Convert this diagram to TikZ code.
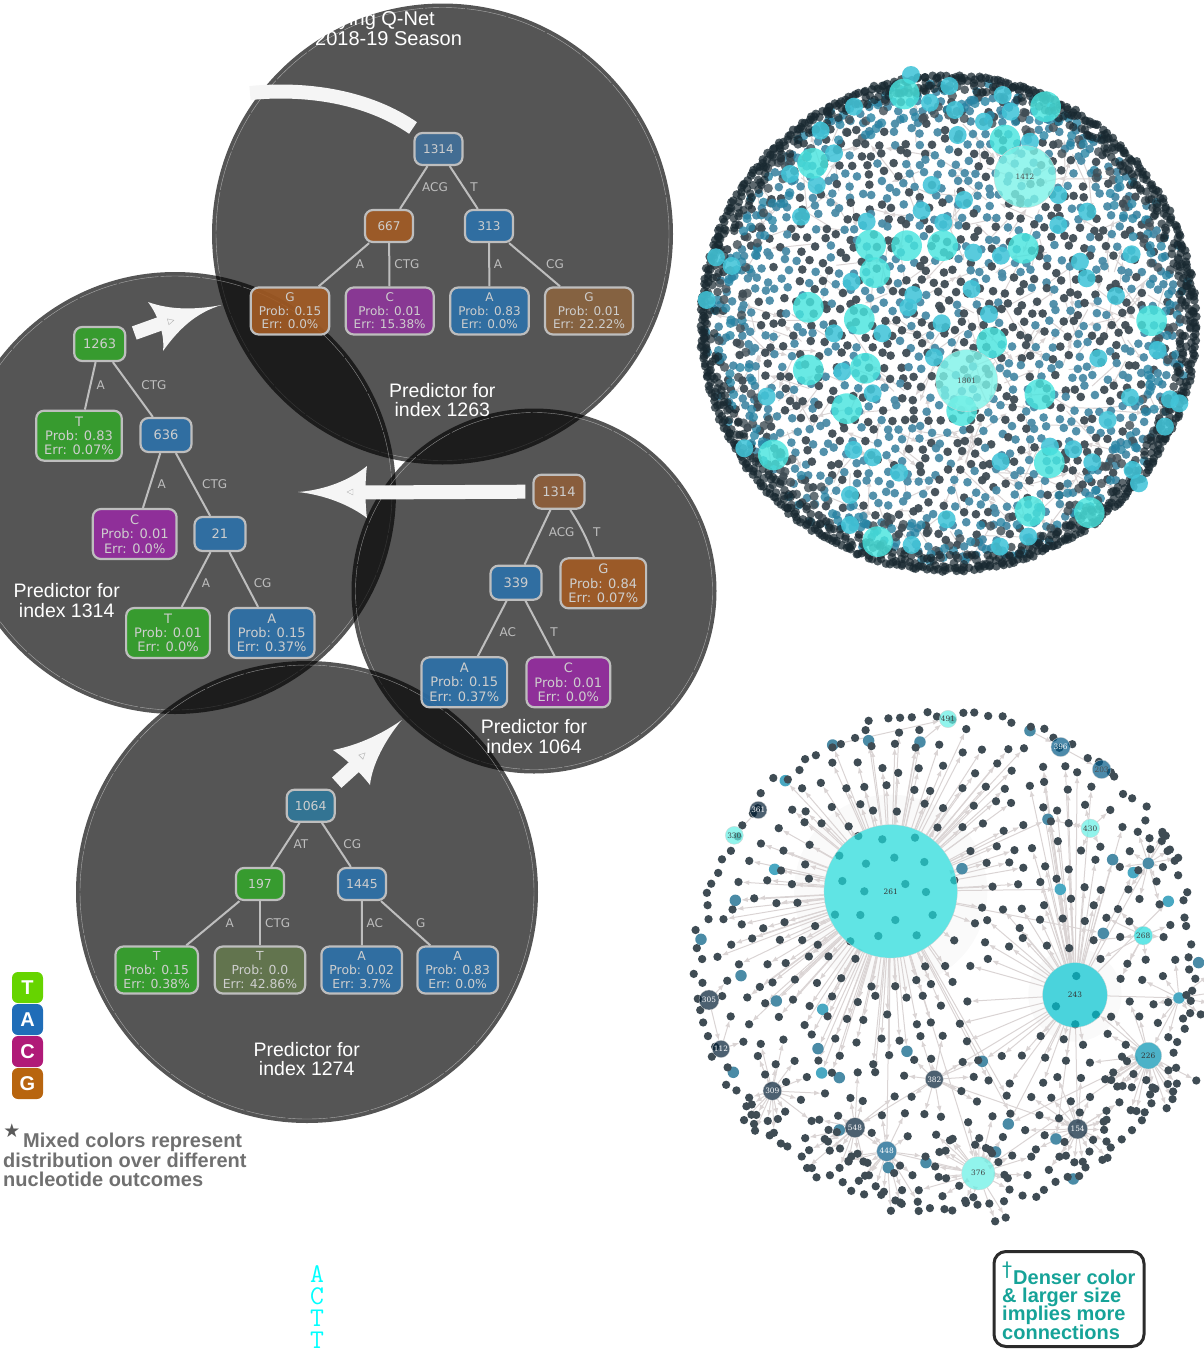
\documentclass[tikz,border=0pt]{standalone}
\usepackage{fontspec}
\usepackage{xcolor}
\usetikzlibrary{arrows.meta}
\setmainfont{Liberation Sans}
\newfontfamily\treefont{DejaVu Sans}
\newfontfamily\hubfont{DejaVu Serif}
\pgfdeclarelayer{edgelayer}
\pgfsetlayers{edgelayer,main}
\newcounter{fanleaf}
\newcommand{\fanout}[6]{%
  \foreach \ii in {1,...,#2}{%
    \stepcounter{fanleaf}%
    \pgfmathsetmacro\ang{#3+(#4-#3)/#2*(\ii-1+0.8*rnd)}%
    \pgfmathsetmacro\rad{#5+(#6-#5)*rnd}%
    \node[leafdot] (leaf\thefanleaf) at ([shift={(\ang:\rad)}]#1.center) {};
  }%
  \begin{pgfonlayer}{edgelayer}
    \foreach \ii in {1,...,#2}{%
      \pgfmathtruncatemacro\lf{\thefanleaf-\ii+1}%
      \draw[linkarrow] (#1) -- (leaf\lf);
    }
  \end{pgfonlayer}
}
\tikzset{
  treesize/.style={font=\treefont\fontsize{12}{13.4}\selectfont,minimum width=48,minimum height=32},
  leafsize/.style={font=\treefont\fontsize{12}{13.4}\selectfont,minimum height=47},
  intbox/.style={draw=cboxline,line width=2.2,rounded corners=8,text=cboxtext,fill opacity=.9,text opacity=1,inner sep=0,treesize},
  leafbox/.style={draw=cboxline,line width=2.2,rounded corners=8,text=cboxtext,fill opacity=.9,text opacity=1,inner xsep=8,inner ysep=0,align=center,leafsize},
  treeedge/.style={draw=cboxline,line width=2},
  edgetag/.style={text=cboxline,font=\treefont\fontsize{12}{13}\selectfont,inner sep=0},
  predtag/.style={text=white,align=center,font=\fontsize{19.5}{19.5}\selectfont,inner sep=0},
  flowline/.style={draw=cflow,line width=14},
  flowhead/.style={fill=cflow},
  tipmark/.style={draw=gray!60,line width=.4},
  legendbox/.style={rounded corners=6,minimum size=31,inner sep=0,text=white,font=\fontsize{20}{20}\bfseries\selectfont},
  greytext/.style={text=cgreytext,anchor=base west,inner sep=0,font=\fontsize{20}{20}\bfseries\selectfont},
  tealtext/.style={text=ctealtext,anchor=base west,inner sep=0,font=\fontsize{20}{20}\bfseries\selectfont},
  leafdot/.style={circle,fill=cdotdark,inner sep=0,minimum size=8.3},
  linkarrow/.style={draw=clink,line width=1,-{Latex[length=6.5,width=5]}},
  hubdot/.style={circle,inner sep=0,draw=cboxline!70,line width=.3,fill opacity=.7,text opacity=1,font=\hubfont\fontsize{7.4}{8}\selectfont},
}
\begin{document}
\begin{tikzpicture}[x=1pt,y=-1pt]
  \definecolor{cboxline}{RGB}{190,190,190}
  \definecolor{cboxtext}{RGB}{206,206,206}
  \definecolor{cflow}{RGB}{245,245,245}
  \definecolor{cgreytext}{RGB}{112,112,112}
  \definecolor{ctealtext}{RGB}{22,163,152}
  \definecolor{cdotdark}{RGB}{63,76,84}
  \definecolor{cdotteal}{RGB}{74,139,166}
  \definecolor{cdotsky}{RGB}{73,168,194}
  \definecolor{cdotrim}{RGB}{24,40,48}
  \definecolor{cdotblue}{RGB}{40,132,164}
  \definecolor{clink}{RGB}{218,212,212}
  \definecolor{cblue}{RGB}{45,113,170}
  \definecolor{cgreen}{RGB}{53,164,44}
  \definecolor{cpurple}{RGB}{150,44,162}
  \definecolor{corange}{RGB}{164,92,36}
  \definecolor{hubpale}{RGB}{99,239,228}
  \definecolor{hubaqua}{RGB}{31,219,219}
  \definecolor{hubcyan}{RGB}{0,195,208}
  \definecolor{hubsea}{RGB}{0,145,176}
  \definecolor{hubblue}{RGB}{0,88,134}
  \definecolor{hubslate}{RGB}{0,28,51}
  \definecolor{hubmint}{RGB}{72,228,222}
  \definecolor{hubfoam}{RGB}{124,242,232}
  \useasboundingbox (0,0) rectangle (1203,1350);
  \pgfmathsetseed{4242}

  % predictor discs
  \foreach \cx/\cy/\cr in {442.5/234/230.5,175/493/221,534/591/182.5,307/892/231}{%
    \fill[black,opacity=.667] (\cx,\cy) circle (\cr);
    \draw[white,opacity=.5,line width=.4,dash pattern=on 40pt off 2pt] (\cx,\cy) circle ({\cr-4});
  }

  % top tree
  \begin{scope}
    \node[intbox,fill={rgb,255:red,66;green,112;blue,154}] (ta) at (438.5,149) {1314};
    \node[intbox,fill=corange] (tb) at (389,226) {667};
    \node[intbox,fill=cblue] (tc) at (489,226) {313};
    \node[leafbox,fill=corange] (td) at (290,311) {G\\Prob: 0.15\\Err: 0.0\%};
    \node[leafbox,fill={rgb,255:red,142;green,54;blue,154}] (te) at (389.7,311) {C\\Prob: 0.01\\Err: 15.38\%};
    \node[leafbox,fill=cblue] (tf) at (489.5,311) {A\\Prob: 0.83\\Err: 0.0\%};
    \node[leafbox,fill={rgb,255:red,139;green,100;blue,64}] (tg) at (589,311) {G\\Prob: 0.01\\Err: 22.22\%};
    \foreach \pa/\pb in {ta/tb,ta/tc,tb/td,tb/te,tc/tf,tc/tg}{%
      \draw[treeedge] (\pa) -- (\pb);
    }
    \node[edgetag] (tl1) at (435,187) {ACG};
    \node[edgetag] (tl2) at (474,187) {T};
    \node[edgetag] (tl3) at (360,264) {A};
    \node[edgetag] (tl4) at (407,264) {CTG};
    \node[edgetag] (tl5) at (498,264) {A};
    \node[edgetag] (tl6) at (555,264) {CG};
    \node[predtag] (tp) at (442.3,400) {Predictor for\\index 1263};
  \end{scope}

  % left tree
  \begin{scope}[treesize/.style={font=\treefont\fontsize{13}{14.3}\selectfont,minimum width=51,minimum height=34},
    leafsize/.style={font=\treefont\fontsize{13}{14.3}\selectfont,minimum height=50}]
    \node[intbox,fill=cgreen] (la) at (99.7,344) {1263};
    \node[leafbox,fill=cgreen] (lb) at (79,435.7) {T\\Prob: 0.83\\Err: 0.07\%};
    \node[intbox,fill=cblue] (lc) at (166,435) {636};
    \node[leafbox,fill=cpurple] (ld) at (134.7,534) {C\\Prob: 0.01\\Err: 0.0\%};
    \node[intbox,fill=cblue] (le) at (220,534) {21};
    \node[leafbox,fill=cgreen] (lf) at (168,633) {T\\Prob: 0.01\\Err: 0.0\%};
    \node[leafbox,fill=cblue] (lg) at (271.7,633) {A\\Prob: 0.15\\Err: 0.37\%};
    \foreach \pa/\pb in {la/lb,la/lc,lc/ld,lc/le,le/lf,le/lg}{%
      \draw[treeedge] (\pa) -- (\pb);
    }
    \node[edgetag] (ll1) at (100.7,385) {A};
    \node[edgetag] (ll2) at (154,385) {CTG};
    \node[edgetag] (ll3) at (161.7,483.7) {A};
    \node[edgetag] (ll4) at (214.7,483.7) {CTG};
    \node[edgetag] (ll5) at (206,582.7) {A};
    \node[edgetag] (ll6) at (262.7,582.7) {CG};
    \node[predtag] (lp) at (66.7,600.5) {Predictor for\\index 1314};
  \end{scope}

  % right tree
  \begin{scope}[treesize/.style={font=\treefont\fontsize{13}{14.3}\selectfont,minimum width=51,minimum height=34},
    leafsize/.style={font=\treefont\fontsize{13}{14.3}\selectfont,minimum height=50}]
    \node[intbox,fill={rgb,255:red,143;green,95;blue,59}] (ra) at (559,491.7) {1314};
    \node[intbox,fill=cblue] (rb) at (516,582.7) {339};
    \node[leafbox,fill=corange] (rc) at (603.3,583.3) {G\\Prob: 0.84\\Err: 0.07\%};
    \node[leafbox,fill=cblue] (rd) at (464.3,682.3) {A\\Prob: 0.15\\Err: 0.37\%};
    \node[leafbox,fill=cpurple] (re) at (568.3,682.3) {C\\Prob: 0.01\\Err: 0.0\%};
    \draw[treeedge] (ra) -- (rb);
    \draw[treeedge] (ra) to[bend left=6] (rc);
    \draw[treeedge] (rb) -- (rd);
    \draw[treeedge] (rb) -- (re);
    \node[edgetag] (rl1) at (561.7,532) {ACG};
    \node[edgetag] (rl2) at (596.7,532) {T};
    \node[edgetag] (rl3) at (507.7,632) {AC};
    \node[edgetag] (rl4) at (554,632) {T};
    \node[predtag] (rp) at (534,736.3) {Predictor for\\index 1064};
  \end{scope}

  % bottom tree
  \begin{scope}[treesize/.style={font=\treefont\fontsize{12.4}{13.6}\selectfont,minimum width=48,minimum height=32},
    leafsize/.style={font=\treefont\fontsize{12.4}{13.6}\selectfont,minimum height=47}]
    \node[intbox,fill={rgb,255:red,48;green,121;blue,154}] (ba) at (310.7,805.7) {1064};
    \node[intbox,fill=cgreen] (bb) at (260,884) {197};
    \node[intbox,fill=cblue] (bc) at (362,884) {1445};
    \node[leafbox,fill=cgreen] (bd) at (156.7,970) {T\\Prob: 0.15\\Err: 0.38\%};
    \node[leafbox,fill={rgb,255:red,100;green,121;blue,78}] (be) at (260,970) {T\\Prob: 0.0\\Err: 42.86\%};
    \node[leafbox,fill=cblue] (bf) at (361.7,970) {A\\Prob: 0.02\\Err: 3.7\%};
    \node[leafbox,fill=cblue] (bg) at (457.7,970) {A\\Prob: 0.83\\Err: 0.0\%};
    \foreach \pa/\pb in {ba/bb,ba/bc,bb/bd,bb/be,bc/bf,bc/bg}{%
      \draw[treeedge] (\pa) -- (\pb);
    }
    \node[edgetag] (bl1) at (301,844) {AT};
    \node[edgetag] (bl2) at (352.3,844) {CG};
    \node[edgetag] (bl3) at (229.7,922.7) {A};
    \node[edgetag] (bl4) at (277.7,922.7) {CTG};
    \node[edgetag] (bl5) at (374.7,922.7) {AC};
    \node[edgetag] (bl6) at (420.7,922.7) {G};
    \node[predtag] (bp) at (306.7,1059) {Predictor for\\index 1274};
  \end{scope}

  \node[anchor=base west,text=white,inner sep=0,font=\fontsize{20}{20}\selectfont] (qnet) at (339,25.5) {ying Q-Net};
  \node[anchor=base west,text=white,inner sep=0,font=\fontsize{20}{20}\selectfont] (season) at (315,45.5) {2018-19 Season};

  % white flows between the discs
  \coordinate (arcstart) at (413,128);
  \coordinate (arcend) at (250,93);
  \draw[flowline] (arcstart) .. controls (380,105) and (325,86) .. (arcend);
  \coordinate (tipone) at (221.5,305);
  \coordinate (neckone) at (165,322);
  \draw[flowline] ([shift={(8,-11)}]la.east) -- (neckone);
  \fill[flowhead] (148,302) .. controls (170,310) and (195,310) .. (tipone)
    .. controls (195,313) and (178,330) .. (163,351)
    .. controls (165,335) and (158,315) .. (148,302);
  \coordinate (tiptwo) at (298,492);
  \coordinate (necktwo) at (360,492.5);
  \draw[flowline] ([xshift=-7]ra.west) -- (necktwo);
  \fill[flowhead] (tiptwo) .. controls (325,490) and (350,480) .. (367,466)
    .. controls (365,480) and (365,505) .. (367,518)
    .. controls (350,505) and (325,495) .. (tiptwo);
  \coordinate (tipthree) at (401.7,720);
  \coordinate (neckthree) at (365,757);
  \draw[flowline] ([shift={(26,-23)}]ba.center) -- (neckthree);
  \fill[flowhead] (tipthree) .. controls (385,732) and (360,745) .. (333,750)
    .. controls (345,758) and (360,772) .. (370,785)
    .. controls (372,765) and (385,740) .. (tipthree);
  \foreach \mx/\my/\mr in {171/321/195,350/492/0,363/755/225}{%
    \draw[tipmark,shift={(\mx,\my)},rotate=\mr] (-3,0) -- (3,-3) -- (3,3) -- cycle;
  }

  % nucleotide key
  \node[legendbox,fill={rgb,255:red,102;green,212;blue,0}] (keyt) at (27.5,987.5) {T};
  \node[legendbox,fill={rgb,255:red,31;green,109;blue,184}] (keya) at (27.5,1019.5) {A};
  \node[legendbox,fill={rgb,255:red,176;green,26;blue,120}] (keyc) at (27.5,1051.5) {C};
  \node[legendbox,fill={rgb,255:red,184;green,101;blue,15}] (keyg) at (27.5,1083.5) {G};
  \node[anchor=center,text=cgreytext!80!black,inner sep=0,font=\treefont\fontsize{19}{19}\selectfont] (star) at (12,1131) {★};
  \node[greytext] (mixa) at (23,1147.5) {Mixed colors represent};
  \node[greytext] (mixb) at (3,1167) {distribution over different};
  \node[greytext] (mixc) at (3,1186.5) {nucleotide outcomes};
  \node[text={rgb,255:red,0;green,255;blue,255},inner sep=0,align=center,font=\ttfamily\fontsize{27}{22}\selectfont] (seq) at (317,1307) {A\\C\\T\\T};

  % size note
  \node[draw={rgb,255:red,43;green,43;blue,43},line width=3,rounded corners=12,minimum width=150,minimum height=95,inner sep=0] (notebox) at (1069,1299) {};
  \node[text=ctealtext,inner sep=0,font=\treefont\fontsize{20}{20}\selectfont] (dag) at (1007,1270) {†};
  \node[tealtext] (notea) at (1013,1284) {Denser color};
  \node[tealtext] (noteb) at (1002,1302) {\& larger size};
  \node[tealtext] (notec) at (1002,1320.5) {implies more};
  \node[tealtext] (noted) at (1002,1339) {connections};

  % large network
  \begin{scope}[shift={(690,60)},x=.3333pt,y=-.3333pt]
    \begin{pgfonlayer}{edgelayer}
      \foreach \ii in {1,...,260}{%
        \pgfmathsetmacro\ang{360*rnd}%
        \pgfmathsetmacro\rad{650*sqrt(rnd)}%
        \pgfmathsetmacro\lng{70+80*rnd}%
        \pgfmathsetmacro\tur{360*rnd}%
        \coordinate (ea\ii) at ([shift={(\ang:\rad)}]775,790);
        \coordinate (eb\ii) at ([shift={(\tur:\lng)}]ea\ii);
        \draw[linkarrow] (ea\ii) -- (eb\ii);
      }
    \end{pgfonlayer}
    \foreach \rw in {-23,...,23}{%
      \foreach \cl in {-20,...,20}{%
        \pgfmathsetmacro\dx{38*\cl+19*mod(abs(\rw),2)+24*(rnd-.5)}%
        \pgfmathsetmacro\dy{32*\rw+24*(rnd-.5)}%
        \pgfmathsetmacro\rr{10*veclen(\dx/10,\dy/10)}%
        \ifdim\rr pt<705pt
          \pgfmathtruncatemacro\mix{rnd<(.3+.35*\rr/705)?0:100}%
          \fill[cdotdark!\mix!cdotteal,opacity=.95] ({775+\dx},{790+\dy}) circle (13);
        \fi
      }
    }
    \foreach \ii in {1,...,420}{%
      \pgfmathsetmacro\ang{\ii/420*360+rnd}%
      \pgfmathsetmacro\rad{610+120*rnd}%
      \pgfmathtruncatemacro\mix{rnd<.55?0:100}%
      \fill[cdotdark!\mix!cdotblue,opacity=.8] ([shift={(\ang:\rad)}]775,790) circle (14);
    }
    \foreach \ii in {1,...,480}{%
      \pgfmathsetmacro\ang{\ii/480*360+rnd}%
      \pgfmathsetmacro\rad{695+40*rnd}%
      \fill[cdotrim,opacity=.7] ([shift={(\ang:\rad)}]775,790) circle (13);
    }
    \foreach \ii in {1,...,400}{%
      \pgfmathsetmacro\ang{\ii/400*360+rnd}%
      \pgfmathsetmacro\rad{734+12*rnd}%
      \fill[cdotrim,opacity=.75] ([shift={(\ang:\rad)}]775,790) circle (13);
    }
    \foreach \xx/\yy in {663/45,778/78,492/140,392/212,720/128,795/150,882/185,962/155,938/105,1020/245,803/225,432/280,300/342,380/375,725/375,822/420,1105/405,1192/455,695/452,530/485,760/488,1105/495,333/470,933/587,850/578,1170/605,1190/655,1325/583,125/618,78/592,50/720,485/665,845/687,670/705,655/742,897/762,755/790,432/820,577/820,1278/708,732/892,1225/895,1403/870,1440/1018,1425/1100,1320/1012,1253/1080,1468/1030,548/1000,457/935,230/1010,163/1165,490/1170,548/1192,627/1238,932/1205,1150/1168,1207/1207,1328/1230,1347/1270,480/1305,480/1395,770/1378,665/1455,930/1460,1015/1430,1080/1160}{%
      \fill[fill={rgb,255:red,66;green,196;blue,216},opacity=.88] (\xx,\yy) circle (27);
    }
    \foreach \xx/\yy in {643/102,1067/140,945/240,368/310,542/555,650/557,758/557,555/638,1000/565,355/742,508/778,905/848,1385/782,355/930,526/925,470/1046,815/1052,1050/1003,250/1185,1078/1208,1020/1354,1198/1358,563/1445}{%
      \fill[fill=hubmint,opacity=.82] (\xx,\yy) circle (46);
    }
    \node[hubdot,fill=hubfoam,fill opacity=.8,minimum size=62,text=black!70] (big1412) at (1005,350) {1412};
    \node[hubdot,fill=hubfoam,fill opacity=.8,minimum size=62,text=black!70] (big1801) at (830,962) {1801};
  \end{scope}

  % small network
  \begin{scope}[shift={(680,700)},x=.3333pt,y=-.3333pt]
    \begin{pgfonlayer}{edgelayer}
      \fill[black!2] (632,574) circle (290);
      \fill[black!2] (1185,885) circle (140);
    \end{pgfonlayer}
    \foreach \xx/\yy in {535/408,607/418,705/413,478/467,558/491,643/473,733/486,487/543,553/574,676/552,738/576,823/541,465/644,541/645,646/660,758/645,595/708,710/706,511/724,1189/828,1128/919,1248/944,1186/973}{%
      \fill[cdotdark] (\xx,\yy) circle (12.5);
    }
    \foreach \xx/\yy/\sc [count=\si] in {458/135/cdotteal,566/122/cdotteal,720/126/cdotteal,1050/92/cdotteal,316/242/cdotsky,284/508/cdotsky,166/601/cdotteal,63/718/cdotteal,183/827/cdotteal,289/903/cdotteal,428/928/cdotsky,414/1046/cdotteal,425/1119/cdotsky,478/1133/cdotteal,160/1117/cdotteal,681/1054/cdotteal,907/1084/cdotteal,1104/358/cdotteal,1298/479/cdotteal,1405/490/cdotteal,1360/518/cdotsky,1141/568/cdotsky,1465/604/cdotsky,1270/700/cdotteal,1497/894/cdotsky,1556/788/cdotteal,846/506/cdotteal,985/1272/cdotteal,1128/1317/cdotteal,947/1356/cdotteal,738/1388/cdotteal,625/1403/cdotteal,478/1290/cdotteal,1180/1437/cdotteal}{%
      \node[circle,fill=\sc,inner sep=0,minimum size=11.5] (s\si) at (\xx,\yy) {};
    }
    \gdef\edgelist{n261/s1,n261/s2,n261/s3,n261/s5,n261/s6,n261/s7,n261/s10,n261/s11,n261/s12,n261/s13,n261/s16,n261/s18,n261/s27,n261/s24,n261/s22,n243/s19,n243/s20,n243/s21,n243/s22,n243/s23,n243/s25,n243/s17,n243/s28,n243/s29,n226/n243,n226/s28,n226/n376,n243/n382,n382/n154,n382/n548,n548/n448,n448/n376,n261/n376,n243/n154,n261/n448,n243/s18,s1/n491,s3/n491,s4/n396,n396/n203,n361/n330,n305/n112,n376/s30,n376/s31,s18/n430,s25/n226}
    \foreach \rw in {-13,...,13}{%
      \foreach \cl in {-11,...,11}{%
        \pgfmathsetmacro\px{800+68*\cl+34*mod(abs(\rw),2)+36*(rnd-.5)}%
        \pgfmathsetmacro\py{785+58*\rw+36*(rnd-.5)}%
        \pgfmathsetmacro\rr{10*veclen((\px-800)/10,(\py-785)/10)}%
        \pgfmathtruncatemacro\gapzone{and(and(\px>880,\px<1070),and(\py>780,\py<1010))}%
        \ifdim\rr pt<705pt\ifnum\gapzone=0
          \gdef\keepit{1}%
          \ifdim\px pt>1040pt\gdef\pick{n243}\else\gdef\pick{n261}\fi
          \foreach \hb/\hx/\hy/\ha/\he in {n261/632/574/0/228,n243/1185/885/360/118,n226/1405/1067/190/60,n376/895/1420/190/70,n154/1193/1287/170/45,n382/763/1138/150/45,n548/525/1283/170/45,n448/620/1354/140/45,n309/277/1173/160/42,n268/1390/707/170/45,n305/87/900/110/40,n112/123/1047/110/40,n430/1231/385/90/40,s20/1405/490/130/30,s25/1497/894/130/30}{%
            \pgfmathsetmacro\dd{10*veclen((\px-\hx)/10,(\py-\hy)/10)}%
            \ifdim\dd pt<\ha pt\xdef\pick{\hb}\fi
            \ifdim\dd pt<\he pt\gdef\keepit{0}\fi
          }%
          \ifnum\keepit=1
            \stepcounter{fanleaf}%
            \node[leafdot] (leaf\thefanleaf) at (\px,\py) {};
            \xdef\edgelist{\edgelist,\pick/leaf\thefanleaf}%
          \fi
        \fi\fi
      }
    }
    \foreach \ii in {1,...,120}{%
      \pgfmathsetmacro\ang{\ii*3+2*rnd}%
      \pgfmathsetmacro\rad{725+35*rnd}%
      \node[leafdot] (rim\ii) at ([shift={(\ang:\rad)}]800,785) {};
    }
    \foreach \hl/\xx/\yy/\rr/\hc/\tc in {261/632/574/200/hubaqua/black!80,243/1185/885/97/hubcyan/black!80,226/1405/1067/40/hubsea/black!80,376/895/1420/50/hubpale/black!75,154/1193/1287/30/hubslate/white!75,382/763/1138/27/hubslate/white!75,548/525/1283/30/hubslate/white!75,448/620/1354/30/hubblue/white!75,309/277/1173/28/hubslate/white!75,112/123/1047/26/hubslate/white!75,305/87/900/30/hubslate/white!75,361/235/330/26/hubslate/white!75,330/163/406/27/hubpale/black!75,491/804/57/26/hubpale/black!75,396/1142/141/29/hubblue/white!75,203/1265/208/28/hubblue/black!70,430/1231/385/28/hubpale/black!75,268/1390/707/28/hubaqua/black!75}{%
      \pgfmathsetmacro\hsz{2*\rr/3}%
      \node[hubdot,fill=\hc,text=\tc,minimum size=\hsz] (n\hl) at (\xx,\yy) {\hl};
    }
    \begin{pgfonlayer}{edgelayer}
      \foreach \pa/\pb in \edgelist{%
        \draw[linkarrow] (\pa) -- (\pb);
      }
    \end{pgfonlayer}
    \fanout{n226}{16}{20}{170}{55}{185}
    \fanout{n376}{16}{0}{360}{65}{170}
    \fanout{n154}{10}{-40}{140}{45}{135}
    \fanout{n548}{10}{70}{200}{45}{190}
    \fanout{n448}{10}{40}{170}{45}{185}
    \fanout{n309}{8}{70}{170}{45}{135}
    \fanout{s20}{6}{260}{380}{40}{120}
    \fanout{s25}{6}{-50}{60}{45}{120}
  \end{scope}
\end{tikzpicture}
\end{document}
